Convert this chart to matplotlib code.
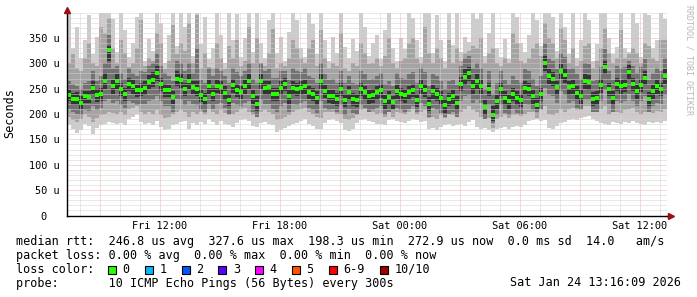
import numpy as np
import matplotlib
matplotlib.use('Agg')
import matplotlib.pyplot as plt
from matplotlib.patches import Rectangle

FONT = 'DejaVu Sans Mono'
W, H = 697, 297

# time axis: hours since Fri 00:00, 12-minute steps
t_start = 7.35
t_step = 0.2

# median rtt (microseconds) per step
median = [237,230,230,222,235,234,252,237,240,265,
          327,255,265,250,240,260,255,247,248,252,
          264,268,280,260,248,247,234,270,267,250,
          265,253,250,237,230,255,240,256,253,242,
          228,257,248,244,255,265,235,220,265,252,
          253,239,240,252,260,235,252,250,252,255,
          244,240,232,265,245,235,235,230,250,228,
          243,230,227,250,243,235,237,243,247,225,
          233,223,245,240,237,243,248,228,255,248,
          220,245,240,232,217,230,235,222,260,274,
          280,255,265,255,213,250,198,225,250,232,
          225,240,232,228,252,250,235,218,240,300,
          275,270,253,285,277,253,255,242,235,265,
          263,230,232,257,292,250,232,260,255,258,
          283,260,245,258,272,230,245,255,250,275]

# max ping per step
ping_max = [400,330,372,310,345,395,318,352,400,400,
            400,388,322,400,365,312,340,392,400,305,
            348,325,400,380,300,355,400,335,400,372,
            400,315,400,338,392,308,330,400,355,300,
            400,345,398,312,350,400,322,400,340,310,
            385,400,320,352,305,362,400,385,330,312,
            400,378,318,400,345,305,352,320,400,332,
            310,348,325,400,372,315,340,355,308,365,
            400,330,305,350,328,400,390,345,312,400,
            400,320,395,345,305,400,336,400,322,352,
            342,400,388,400,315,360,400,330,312,348,
            308,400,392,340,322,355,400,385,335,400,
            400,392,325,400,372,318,400,310,345,400,
            385,305,338,400,400,350,318,332,400,330,
            322,400,380,312,400,395,330,345,400,388]

# min ping per step
ping_min = [178,170,163,168,181,176,161,172,178,180,
            185,183,180,182,178,190,195,200,185,180,
            182,178,186,175,168,171,178,180,184,187,
            171,182,178,185,180,190,184,179,186,181,
            178,175,183,188,190,186,176,174,182,185,
            180,178,165,168,172,176,180,182,186,190,
            181,176,171,170,183,188,190,186,182,168,
            166,170,182,188,190,187,184,180,181,178,
            188,190,186,184,182,186,190,188,185,187,
            170,172,168,174,178,180,176,178,180,177,
            184,188,175,170,172,168,165,170,172,174,
            170,175,176,174,178,186,188,190,187,189,
            173,170,176,182,184,188,190,189,192,195,
            196,190,186,182,180,178,184,183,181,185,
            182,186,183,180,178,184,182,185,183,186]

# 2nd highest / 2nd lowest ping
ping_hi2 = [300,318,290,285,310,340,300,295,372,360,
            390,330,300,345,320,292,300,330,385,295,
            310,305,360,340,288,305,375,318,340,325,
            380,300,395,290,320,292,290,340,310,288,
            335,310,345,295,305,372,300,350,300,295,
            320,368,290,300,285,310,345,330,310,300,
            330,345,295,365,310,290,300,295,360,290,
            285,300,295,340,320,298,300,310,295,315,
            350,300,290,305,310,340,350,310,300,372,
            320,300,330,310,290,345,300,330,305,320,
            325,335,330,350,300,320,330,300,295,310,
            300,360,340,305,300,310,330,340,315,380,
            350,340,310,370,345,300,330,295,305,335,
            340,290,305,330,370,320,300,310,365,310,
            305,330,320,300,340,335,310,305,345,345]
ping_lo2 = [195,188,185,190,200,195,185,192,198,200,
            205,203,200,205,198,210,212,215,205,200,
            205,200,208,198,192,195,200,205,208,205,
            195,205,200,205,200,210,205,200,208,203,
            198,200,205,210,212,205,198,195,205,208,
            205,200,188,190,195,198,205,208,210,212,
            205,200,195,192,205,208,210,205,200,190,
            188,192,200,208,210,205,205,200,203,198,
            205,210,205,203,200,205,210,205,205,208,
            192,195,190,198,195,200,198,195,205,210,
            215,208,205,195,190,192,172,190,195,198,
            192,198,198,196,200,205,208,210,208,215,
            200,198,202,210,205,210,212,208,210,215,
            215,205,205,210,215,200,205,205,203,208,
            210,212,205,200,205,205,203,206,205,210]

# 3rd highest / 3rd lowest ping
ping_hi3 = [265,260,255,250,262,265,285,265,275,300,
            355,290,295,280,270,290,280,275,285,282,
            295,300,320,295,280,275,265,305,300,285,
            300,280,330,268,262,290,275,290,285,275,
            262,290,282,275,285,300,270,262,300,285,
            288,272,272,285,295,268,290,285,282,290,
            275,272,262,300,278,268,270,262,285,262,
            275,262,260,285,278,268,270,275,280,260,
            265,255,280,272,270,278,282,262,290,282,
            255,278,275,265,250,265,268,258,295,310,
            315,290,300,290,250,285,240,262,285,268,
            260,275,268,262,288,285,270,255,275,340,
            310,305,288,320,312,288,290,278,270,300,
            298,265,268,292,328,285,268,295,290,292,
            318,295,280,292,308,268,280,290,285,310]
ping_lo3 = [210,205,200,198,208,206,215,208,212,225,
            230,222,225,218,212,225,222,218,220,220,
            225,228,235,225,215,215,205,230,228,218,
            225,220,218,208,205,220,210,220,222,212,
            200,222,218,215,222,225,205,195,228,220,
            220,210,205,215,222,205,220,218,222,225,
            212,208,202,225,212,205,205,200,218,198,
            210,202,198,218,212,205,208,212,215,195,
            205,195,212,208,205,210,215,200,222,215,
            195,212,208,202,192,200,205,195,225,235,
            238,222,228,222,190,218,182,198,218,202,
            198,210,202,200,220,218,205,192,210,252,
            238,235,222,245,238,222,225,212,208,228,
            228,205,205,225,248,220,205,225,222,225,
            240,225,215,225,235,205,215,222,220,238]

# 4th highest / 4th lowest ping (core)
ping_hi4 = [248,242,243,235,246,245,265,250,252,280,
            335,268,278,262,252,272,268,258,262,265,
            276,282,295,272,260,258,246,284,280,262,
            278,265,265,248,242,268,252,268,265,255,
            240,270,260,256,268,278,248,235,278,265,
            265,252,252,265,272,248,265,262,265,268,
            256,252,245,278,258,248,248,242,262,240,
            255,242,240,262,255,248,250,255,260,238,
            245,236,258,252,250,255,260,240,268,260,
            234,258,252,245,230,242,248,235,274,288,
            292,268,278,268,228,262,215,238,262,245,
            238,252,245,240,265,262,248,232,252,315,
            288,283,266,298,290,265,268,255,248,278,
            276,243,245,270,305,262,245,272,268,270,
            296,272,258,270,285,243,258,268,262,288]
ping_lo4 = [225,218,218,210,222,222,238,224,226,250,
            305,240,250,236,226,246,240,233,235,238,
            250,254,265,245,234,233,220,255,252,236,
            250,240,236,224,218,240,226,242,240,228,
            215,242,234,230,240,250,220,206,250,238,
            238,225,226,238,245,220,238,236,238,240,
            230,226,218,250,232,222,220,216,236,214,
            228,216,214,236,228,220,222,228,232,210,
            218,208,230,226,222,228,234,214,240,234,
            206,230,226,218,202,216,220,208,245,258,
            265,240,250,240,198,236,186,210,236,218,
            210,226,218,214,238,236,220,204,226,285,
            260,256,238,270,262,238,240,228,220,250,
            248,216,218,242,278,236,218,246,240,244,
            268,246,230,244,258,216,230,240,236,260]

y_ticks = [0, 50, 100, 150, 200, 250, 300, 350]
y_labels = ['0  ', '50 u', '100 u', '150 u', '200 u', '250 u', '300 u', '350 u']
x_label_pos = [12, 18, 24, 30, 36]
x_labels = ['Fri 12:00', 'Fri 18:00', 'Sat 00:00', 'Sat 06:00', 'Sat 12:00']

loss_labels = ['0', '1', '2', '3', '4', '5', '6-9', '10/10']
loss_colors = ['#26ff00', '#00b8ff', '#0059ff', '#5e00ff', '#ff00ff',
               '#ff5500', '#ff0000', '#a10000']

legend_lines = [
    'median rtt:  246.8 us avg  327.6 us max  198.3 us min  272.9 us now  0.0 ms sd  14.0   am/s',
    'packet loss: 0.00 % avg  0.00 % max  0.00 % min  0.00 % now',
    'loss color:',
    'probe:       10 ICMP Echo Pings (56 Bytes) every 300s',
]
stamp = 'Sat Jan 24 13:16:09 2026'

# ------------------------------------------------------------------
n = len(median)
edges = t_start + t_step * np.arange(n + 1)
centers = edges[:-1] + t_step / 2

layers = np.sort(np.array([ping_min, ping_lo2, ping_lo3, ping_lo4,
                           ping_hi4, ping_hi3, ping_hi2, ping_max], float), axis=0)

def ext(a):
    a = np.asarray(a, float)
    return np.append(a, a[-1])

fig = plt.figure(figsize=(W / 100, H / 100), dpi=100)
fig.patch.set_facecolor('white')
ax_l, ax_r, ax_t, ax_b = 67, 667, 12.6, 215.5
ax = fig.add_axes([ax_l / W, (H - ax_b) / H, (ax_r - ax_l) / W, (ax_b - ax_t) / H])
ax.set_facecolor('white')

shades = ['#cccccc', '#a4a4a4', '#727272', '#343434']
for k, c in enumerate(shades):
    ax.fill_between(edges, ext(layers[k]), ext(layers[7 - k]), step='post',
                    color=c, linewidth=0, zorder=1)

ax.plot(centers, median, linestyle='none', marker='s', markersize=2.2,
        markerfacecolor='#26ff00', markeredgewidth=0, zorder=4)

ax.set_xlim(t_start, t_start + t_step * n)
ax.set_ylim(0, 400)

ax.set_yticks(y_ticks)
ax.set_yticklabels(y_labels)
ax.set_yticks(np.arange(0, 401, 10), minor=True)
xmaj = np.arange(9, 37.5, 3)
ax.set_xticks(xmaj)
ax.set_xticklabels([x_labels[x_label_pos.index(v)] if v in x_label_pos else '' for v in xmaj])
ax.set_xticks(np.arange(8, 38, 1), minor=True)

ax.tick_params(which='both', length=0)
ax.tick_params(axis='y', pad=5.5, labelsize=7.4, labelfontfamily=FONT)
ax.tick_params(axis='x', pad=4.0, labelsize=7.4, labelfontfamily=FONT)

ax.grid(which='minor', color='#d2d2d2', linestyle=(0, (1, 1)), linewidth=0.72, zorder=2)
ax.grid(which='major', color='#eeb2b2', linestyle=(0, (1, 1)), linewidth=0.72, zorder=2)
ax.set_axisbelow(False)

for s in ['top', 'right']:
    ax.spines[s].set_visible(False)
for s in ['left', 'bottom']:
    ax.spines[s].set_color('#000000')
    ax.spines[s].set_linewidth(1.0)
    ax.spines[s].set_zorder(5)

# axis arrows
ax.plot([0], [1.012], marker='^', markersize=4, color='#9b1010', transform=ax.transAxes,
        clip_on=False, zorder=6)
ax.plot([0, 0], [1.0, 1.012], color='#000000', lw=1.0, transform=ax.transAxes, clip_on=False)
ax.plot([1.0, 1.006], [0, 0], color='#000000', lw=1.0, transform=ax.transAxes, clip_on=False)
ax.plot([1.007], [0], marker='>', markersize=4, color='#9b1010', transform=ax.transAxes,
        clip_on=False, zorder=6)

fig.text(10 / W, 1 - 113 / H, 'Seconds', rotation=90, ha='center', va='center',
         fontsize=8.5, family=FONT, color='#000000')
fig.text(688.5 / W, 1 - 60 / H, 'RRDTOOL / TOBI OETIKER', rotation=270, ha='center',
         va='center', fontsize=6.0, family=FONT, color='#b8b8b8')

row_y = [241.5, 255.3, 269.2, 283.0]
for line, y in zip(legend_lines, row_y):
    fig.text(16 / W, 1 - y / H, line, ha='left', va='center', fontsize=8.5,
             family=FONT, color='#000000')
fig.text(681 / W, 1 - row_y[3] / H, stamp, ha='right', va='center', fontsize=8.5,
         family=FONT, color='#000000')

sq_x = 108.0
for lab, col in zip(loss_labels, loss_colors):
    fig.patches.append(Rectangle((sq_x / W, 1 - 273.5 / H), 8 / W, 8 / H,
                                 transform=fig.transFigure, facecolor=col,
                                 edgecolor='#000000', linewidth=0.8))
    fig.text((sq_x + 14.5) / W, 1 - row_y[2] / H, lab, ha='left', va='center',
             fontsize=8.5, family=FONT, color='#000000')
    sq_x += 36.8 + 7.1 * (len(lab) - 1)

fig.savefig('out.png', dpi=100, facecolor='white')
